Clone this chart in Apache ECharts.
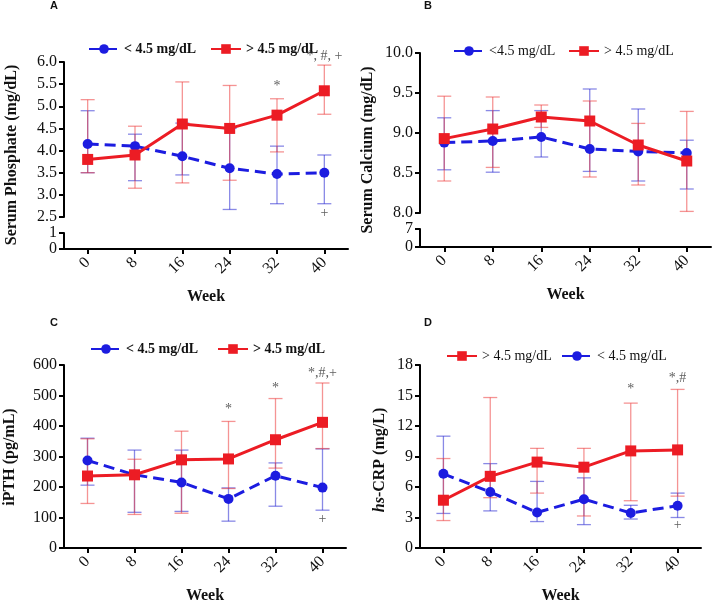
<!DOCTYPE html>
<html><head><meta charset="utf-8">
<script src="https://cdn.jsdelivr.net/npm/echarts@6/dist/echarts.min.js"></script>
<style>html,body{margin:0;padding:0;background:#fff}#c{width:712px;height:605px}</style>
</head><body><div id="c"></div>
<script>
const weeks = ['0','8','16','24','32','40'];
const lowName = '< 4.5 mg/dL';
const lowNameB = '<4.5 mg/dL';
const highName = '> 4.5 mg/dL';

// A: Serum phosphate
const phosLowMean = [4.15,4.10,3.87,3.60,3.47,3.50];
const phosLowLo   = [3.50,3.32,3.45,2.67,2.80,2.80];
const phosLowHi   = [4.90,4.37,4.62,4.50,4.10,3.90];
const phosHighMean= [3.80,3.90,4.60,4.50,4.80,5.35];
const phosHighLo  = [3.50,3.15,3.27,3.33,3.97,4.82];
const phosHighHi  = [5.15,4.55,5.55,5.47,5.17,5.93];
const annA = [[4,5.45,'*'],[5,6.12,'*, #, +'],[5,2.58,'+']];

// B: Serum calcium
const caLowMean = [8.88,8.90,8.95,8.80,8.77,8.75];
const caLowLo   = [8.54,8.51,8.70,8.52,8.40,8.30];
const caLowHi   = [9.19,9.28,9.28,9.55,9.30,8.91];
const caHighMean= [8.93,9.05,9.20,9.15,8.85,8.65];
const caHighLo  = [8.40,8.57,9.07,8.45,8.35,8.02];
const caHighHi  = [9.46,9.45,9.35,9.40,9.12,9.27];

// C: iPTH
const pthLowMean = [287,240,215,161,237,198];
const pthLowLo   = [206,117,120,88,137,124];
const pthLowHi   = [360,321,321,197,279,325];
const pthHighMean= [236,240,289,292,355,412];
const pthHighLo  = [146,110,114,195,262,326];
const pthHighHi  = [358,291,383,415,490,541];
const annC = [[3,455,'*'],[4,525,'*'],[5,574,'*,#,+'],[5,94,'+']];

// D: hs-CRP
const crpHighMean= [4.70,7.05,8.45,7.95,9.55,9.65];
const crpHighLo  = [2.70,4.95,5.40,3.15,4.65,5.10];
const crpHighHi  = [8.80,14.80,9.80,9.80,14.25,15.60];
const crpLowMean = [7.30,5.50,3.50,4.80,3.45,4.15];
const crpLowLo   = [3.40,3.65,2.60,2.30,2.85,3.00];
const crpLowHi   = [11.00,8.30,6.55,6.90,4.20,5.40];
const annD = [[4,15.6,'*'],[5,16.7,'*,#'],[5,2.2,'+']];

const RED = '#ec1c24', BLUE = '#1c1ce0';
const RED_ERR = 'rgba(236,60,60,0.55)', BLUE_ERR = 'rgba(40,40,210,0.55)';
const SERIF = 'Liberation Serif';

const chart = echarts.init(document.getElementById('c'), null, {renderer:'canvas'});

const grids = [
  {left:64, top:62, width:284, height:155},
  {left:64, top:233, width:284, height:16},
  {left:420, top:53, width:291, height:160},
  {left:420, top:229, width:291, height:18},
  {left:64, top:365, width:282, height:185},
  {left:420, top:365, width:281, height:186}
];
const axisLine = {show:true, lineStyle:{color:'#000', width:2}};
const axisTick = {show:true, length:5, lineStyle:{color:'#000', width:2}};

function xAx(i, shown){
  const a = {type:'category', gridIndex:i, data:weeks, boundaryGap:true};
  if(!shown){ a.show=false; return a; }
  return Object.assign(a, {
    axisLine, axisTick:Object.assign({alignWithLabel:true}, axisTick),
    axisLabel:{rotate:45, fontFamily:SERIF, fontSize:16, color:'#111', margin:11},
    name:'Week', nameLocation:'middle', nameGap:40,
    nameTextStyle:{fontFamily:SERIF, fontSize:16, fontWeight:'bold', color:'#111'},
    splitLine:{show:false}
  });
}
function yAx(i, min, max, interval, fmt){
  return {type:'value', gridIndex:i, min, max, interval,
    axisLine, axisTick,
    axisLabel:{fontFamily:SERIF, fontSize:16, color:'#111', margin:7, formatter:fmt},
    splitLine:{show:false}};
}
function errRender(color){
  return function(params, api){
    const x = api.value(0);
    const lo = api.coord([x, api.value(1)]);
    const hi = api.coord([x, api.value(2)]);
    const w = 7;
    const style = {stroke:color, lineWidth:1.3, fill:null};
    return {type:'group', children:[
      {type:'line', shape:{x1:lo[0],y1:lo[1],x2:hi[0],y2:hi[1]}, style},
      {type:'line', shape:{x1:lo[0]-w,y1:lo[1],x2:lo[0]+w,y2:lo[1]}, style},
      {type:'line', shape:{x1:hi[0]-w,y1:hi[1],x2:hi[0]+w,y2:hi[1]}, style}
    ]};
  };
}
function errSeries(gi, lo, hi, color){
  return {type:'custom', xAxisIndex:gi, yAxisIndex:gi, z:1,
    renderItem:errRender(color), clip:false, silent:true,
    data: lo.map((v,i)=>[i, v, hi[i]])};
}
function lowLine(gi, data, name){
  return {type:'line', name, xAxisIndex:gi, yAxisIndex:gi, data, z:3,
    symbol:'circle', symbolSize:10, color:BLUE,
    lineStyle:{color:BLUE, width:3, type:[11,6]}, itemStyle:{color:BLUE}};
}
function highLine(gi, data){
  return {type:'line', name:highName, xAxisIndex:gi, yAxisIndex:gi, data, z:4,
    symbol:'rect', symbolSize:11, color:RED,
    lineStyle:{color:RED, width:3}, itemStyle:{color:RED}};
}
function annSeries(gi, ann){
  return {type:'scatter', xAxisIndex:gi, yAxisIndex:gi, symbolSize:0, clip:false, silent:true, z:5,
    data: ann.map(a=>[a[0], a[1], a[2]]),
    label:{show:true, position:'inside', formatter:p=>p.data[2],
      fontFamily:SERIF, fontSize:14, color:'#333'}};
}
function leg(name, left, top, bold){
  return {data:[name], left, top, itemWidth:30, itemHeight:12,
    textStyle:{fontFamily:SERIF, fontSize:14, fontWeight:bold?'bold':'normal', color:'#111'},
    selectedMode:false};
}

const option = {
  animation:false,
  backgroundColor:'#fff',
  grid:grids,
  xAxis:[xAx(0,false), xAx(1,true), xAx(2,false), xAx(3,true), xAx(4,true), xAx(5,true)],
  yAxis:[
    yAx(0, 2.5, 6.0, 0.5, v=>v.toFixed(1)),
    yAx(1, 0, 1, 1),
    yAx(2, 8.0, 10.0, 0.5, v=>v.toFixed(1)),
    yAx(3, 0, 7, 7),
    yAx(4, 0, 600, 100),
    yAx(5, 0, 18, 3)
  ],
  legend:[
    leg(lowName, 83, 37, true), leg(highName, 205, 37, true),
    leg(lowNameB, 448, 39, false), leg(highName, 563, 39, false),
    leg(lowName, 85, 337, true), leg(highName, 212, 337, true),
    leg(highName, 441, 344, false), leg(lowName, 556, 344, false)
  ],
  series:[
    errSeries(0, phosLowLo, phosLowHi, BLUE_ERR),
    errSeries(0, phosHighLo, phosHighHi, RED_ERR),
    lowLine(0, phosLowMean, lowName),
    highLine(0, phosHighMean),
    annSeries(0, annA),

    errSeries(2, caLowLo, caLowHi, BLUE_ERR),
    errSeries(2, caHighLo, caHighHi, RED_ERR),
    lowLine(2, caLowMean, lowNameB),
    highLine(2, caHighMean),

    errSeries(4, pthLowLo, pthLowHi, BLUE_ERR),
    errSeries(4, pthHighLo, pthHighHi, RED_ERR),
    lowLine(4, pthLowMean, lowName),
    highLine(4, pthHighMean),
    annSeries(4, annC),

    errSeries(5, crpLowLo, crpLowHi, BLUE_ERR),
    errSeries(5, crpHighLo, crpHighHi, RED_ERR),
    lowLine(5, crpLowMean, lowName),
    highLine(5, crpHighMean),
    annSeries(5, annD)
  ],
  graphic:[
    {type:'text', x:54, y:6, style:{text:'A', font:'bold 11px "Liberation Sans"', fill:'#111', align:'center', verticalAlign:'middle'}},
    {type:'text', x:428, y:6, style:{text:'B', font:'bold 11px "Liberation Sans"', fill:'#111', align:'center', verticalAlign:'middle'}},
    {type:'text', x:54, y:323, style:{text:'C', font:'bold 11px "Liberation Sans"', fill:'#111', align:'center', verticalAlign:'middle'}},
    {type:'text', x:428, y:323, style:{text:'D', font:'bold 11px "Liberation Sans"', fill:'#111', align:'center', verticalAlign:'middle'}},
    {type:'text', x:12, y:155, rotation:Math.PI/2, style:{text:'Serum Phosphate (mg/dL)', font:'bold 16px "Liberation Serif"', fill:'#111', align:'center', verticalAlign:'middle'}},
    {type:'text', x:368, y:150, rotation:Math.PI/2, style:{text:'Serum Calcium (mg/dL)', font:'bold 16px "Liberation Serif"', fill:'#111', align:'center', verticalAlign:'middle'}},
    {type:'text', x:10, y:457, rotation:Math.PI/2, style:{text:'iPTH (pg/mL)', font:'bold 16px "Liberation Serif"', fill:'#111', align:'center', verticalAlign:'middle'}},
    {type:'text', x:380, y:460, rotation:Math.PI/2, style:{text:'{i|hs}-CRP (mg/L)', font:'bold 16px "Liberation Serif"', fill:'#111', align:'center', verticalAlign:'middle',
      rich:{i:{font:'italic bold 16px "Liberation Serif"', fill:'#111'}}}}
  ]
};
chart.setOption(option);
</script>
</body></html>
